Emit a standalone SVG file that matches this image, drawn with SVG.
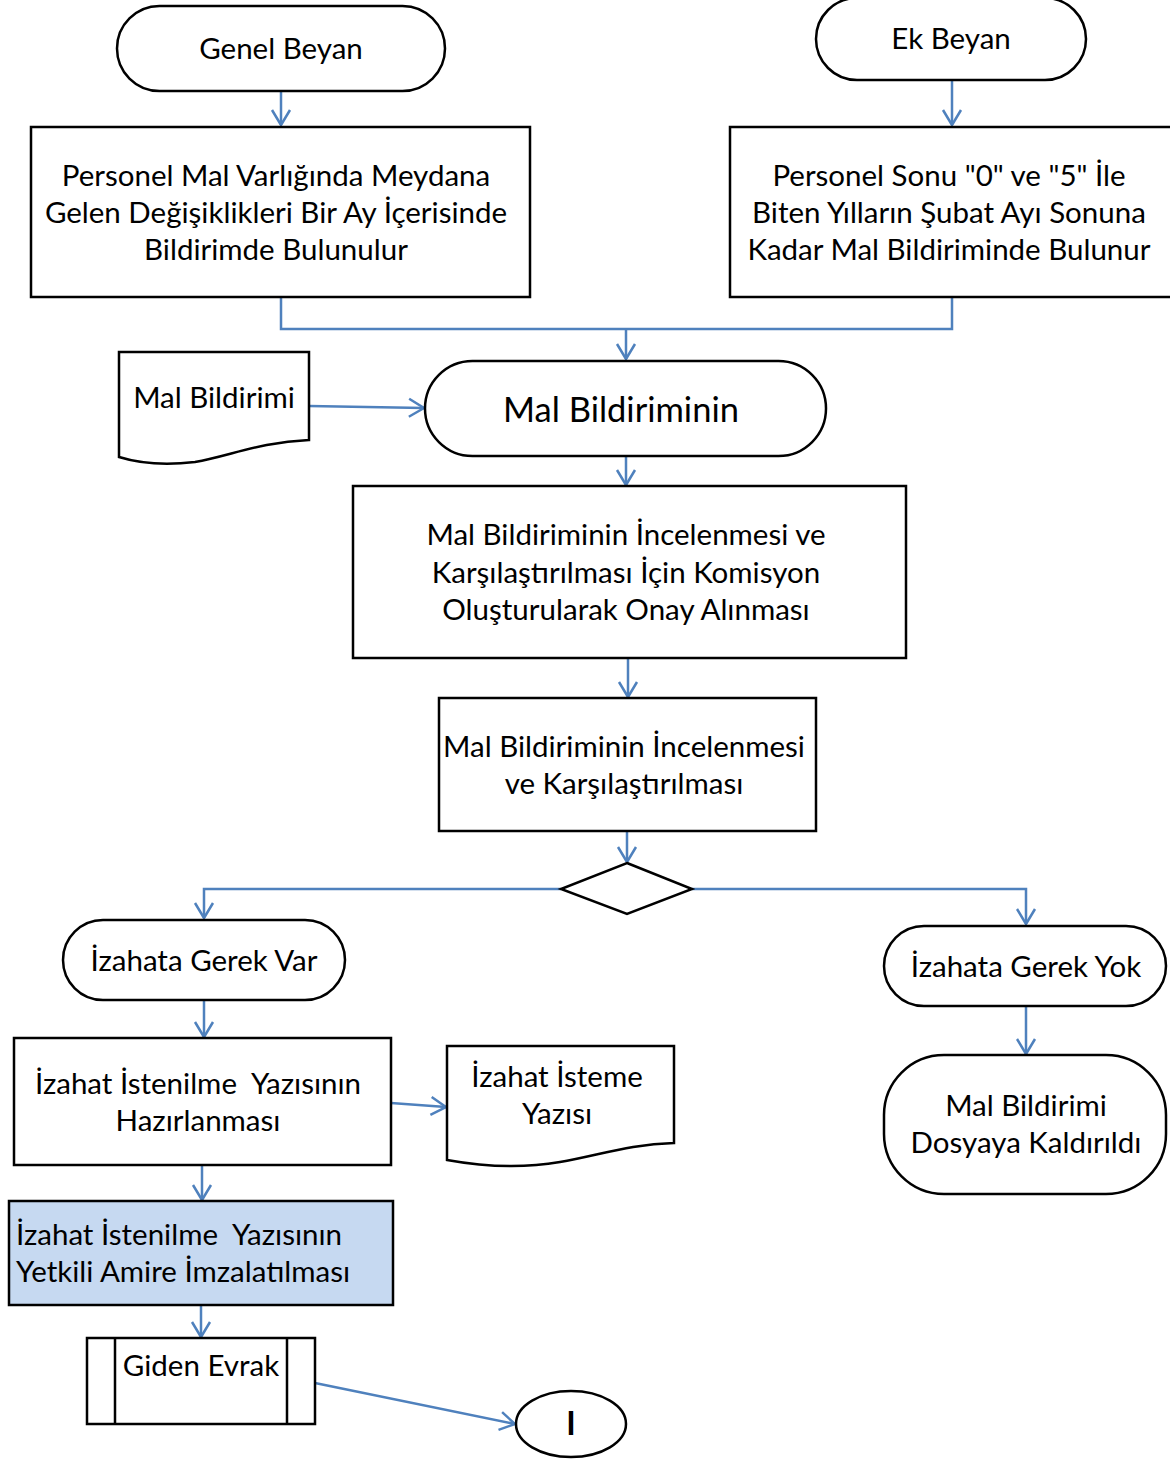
<svg xmlns="http://www.w3.org/2000/svg" width="1170" height="1459" viewBox="0 0 1170 1459">
<style>
.s{fill:#fff;stroke:#000;stroke-width:2.5}
.b{fill:#c6d9f1;stroke:#000;stroke-width:2.5}
.c{fill:none;stroke:#4f81bd;stroke-width:2.5}
text{font-family:Lato,"Noto Sans","DejaVu Sans",sans-serif;font-size:29.5px;fill:#000}
.m{text-anchor:middle}
</style>
<defs>
<marker id="a" markerUnits="userSpaceOnUse" markerWidth="22" markerHeight="22" viewBox="0 0 22 22" refX="17" refY="11" orient="auto">
<path d="M2,2 L17,11 L2,20" fill="none" stroke="#4f81bd" stroke-width="2.5"/>
</marker>
</defs>
<rect width="1170" height="1459" fill="#fff"/>
<g id="connectors">
<path class="c" d="M281,91 V125" marker-end="url(#a)"/>
<path class="c" d="M952,80 V125" marker-end="url(#a)"/>
<path class="c" d="M281,297 V329 H952 V297"/>
<path class="c" d="M626,329 V359" marker-end="url(#a)"/>
<path class="c" d="M309,406 L424,408" marker-end="url(#a)"/>
<path class="c" d="M626,456 V485" marker-end="url(#a)"/>
<path class="c" d="M628,658 V697" marker-end="url(#a)"/>
<path class="c" d="M627,831 V862" marker-end="url(#a)"/>
<path class="c" d="M561,889 H204 V918" marker-end="url(#a)"/>
<path class="c" d="M692,889 H1026 V924" marker-end="url(#a)"/>
<path class="c" d="M204,1000 V1037" marker-end="url(#a)"/>
<path class="c" d="M1026,1006 V1054" marker-end="url(#a)"/>
<path class="c" d="M391,1103 L446,1107" marker-end="url(#a)"/>
<path class="c" d="M202,1165 V1200" marker-end="url(#a)"/>
<path class="c" d="M201,1305 V1337" marker-end="url(#a)"/>
<path class="c" d="M315,1383 L515,1424" marker-end="url(#a)"/>
</g>
<g id="genel-beyan">
<rect class="s" x="117" y="6" width="328" height="85" rx="42.5"/>
<text class="m" x="281" y="59">Genel Beyan</text>
</g>
<g id="ek-beyan">
<rect class="s" x="816" y="-2" width="270" height="82" rx="41"/>
<text class="m" x="951" y="49">Ek Beyan</text>
</g>
<g id="personel-genel">
<rect class="s" x="31" y="127" width="499" height="170"/>
<text class="m" x="276" y="186">Personel Mal Varlığında Meydana</text>
<text class="m" x="276" y="223">Gelen Değişiklikleri Bir Ay İçerisinde</text>
<text class="m" x="276" y="260">Bildirimde Bulunulur</text>
</g>
<g id="personel-ek">
<rect class="s" x="730" y="127" width="445" height="170"/>
<text class="m" x="949" y="186">Personel Sonu "0" ve "5" İle</text>
<text class="m" x="949" y="223">Biten Yılların Şubat Ayı Sonuna</text>
<text class="m" x="949" y="260">Kadar Mal Bildiriminde Bulunur</text>
</g>
<g id="mal-bildirimi-doc">
<path class="s" d="M119,352 H309 V440 C260,442 230,456 195,462 C160,466 135,462 119,457 Z"/>
<text class="m" x="214" y="408">Mal Bildirimi</text>
</g>
<g id="mal-bildiriminin">
<rect class="s" x="425" y="361" width="401" height="95" rx="47.5"/>
<text class="m" x="621" y="422" style="font-size:34.5px">Mal Bildiriminin</text>
</g>
<g id="komisyon">
<rect class="s" x="353" y="486" width="553" height="172"/>
<text class="m" x="626" y="545">Mal Bildiriminin İncelenmesi ve</text>
<text class="m" x="626" y="583">Karşılaştırılması İçin Komisyon</text>
<text class="m" x="626" y="620">Oluşturularak Onay Alınması</text>
</g>
<g id="inceleme">
<rect class="s" x="439" y="698" width="377" height="133"/>
<text class="m" x="624" y="757">Mal Bildiriminin İncelenmesi</text>
<text class="m" x="624" y="794">ve Karşılaştırılması</text>
</g>
<g id="karar">
<path class="s" d="M627,863 L692,889 L627,914 L561,889 Z"/>
</g>
<g id="gerek-var">
<rect class="s" x="63" y="920" width="282" height="80" rx="40"/>
<text class="m" x="204" y="971">İzahata Gerek Var</text>
</g>
<g id="gerek-yok">
<rect class="s" x="884" y="926" width="282" height="80" rx="40"/>
<text class="m" x="1026" y="977">İzahata Gerek Yok</text>
</g>
<g id="dosyaya">
<rect class="s" x="884" y="1055" width="282" height="139" rx="60"/>
<text class="m" x="1026" y="1116">Mal Bildirimi</text>
<text class="m" x="1026" y="1153">Dosyaya Kaldırıldı</text>
</g>
<g id="hazirlanmasi">
<rect class="s" x="14" y="1038" width="377" height="127"/>
<text class="m" x="198" y="1094" xml:space="preserve">İzahat İstenilme  Yazısının</text>
<text class="m" x="198" y="1131">Hazırlanması</text>
</g>
<g id="isteme-yazisi">
<path class="s" d="M447,1046 H674 V1143 C630,1144 600,1155 560,1162 C520,1169 480,1166 447,1160 Z"/>
<text class="m" x="557" y="1087">İzahat İsteme</text>
<text class="m" x="557" y="1124">Yazısı</text>
</g>
<g id="imzalatilmasi">
<rect class="b" x="9" y="1201" width="384" height="104"/>
<text x="16" y="1245" xml:space="preserve">İzahat İstenilme  Yazısının</text>
<text x="16" y="1282">Yetkili Amire İmzalatılması</text>
</g>
<g id="giden-evrak">
<rect class="s" x="87" y="1338" width="228" height="86"/>
<path class="s" d="M115,1338 V1424 M287,1338 V1424"/>
<text class="m" x="201" y="1376">Giden Evrak</text>
</g>
<g id="baglanti">
<ellipse class="s" cx="571" cy="1424" rx="55" ry="33"/>
<text class="m" x="571" y="1435" style="font-weight:bold;font-size:32px">I</text>
</g>
</svg>
